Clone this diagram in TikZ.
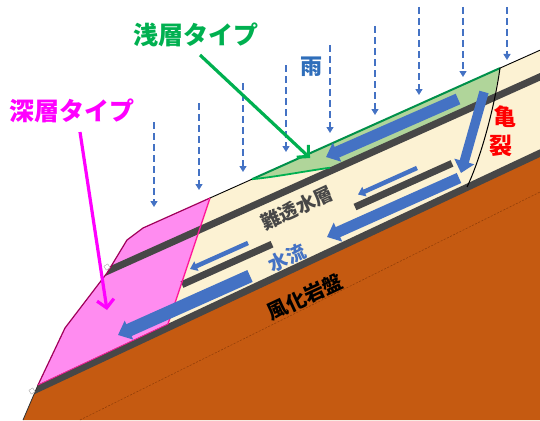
\documentclass[tikz,border=0pt]{standalone}
\usepackage{fontspec}
\newfontfamily\jp{Noto Sans CJK JP}
\usetikzlibrary{arrows.meta}
\definecolor{cream}{HTML}{FCF2D3}
\definecolor{rock}{HTML}{C55A11}
\definecolor{rockline}{HTML}{8E3C08}
\definecolor{band}{HTML}{474747}
\definecolor{flow}{HTML}{4472C4}
\definecolor{shallowfill}{HTML}{B0D59A}
\definecolor{shallowline}{HTML}{00904A}
\definecolor{deepfill}{HTML}{FF8CF0}
\definecolor{deepedge}{HTML}{FF1A9A}
\definecolor{deepoutline}{HTML}{A0005A}
\definecolor{labelgreen}{HTML}{00B050}
\definecolor{labelpink}{HTML}{FF00FF}
\definecolor{rainlabel}{HTML}{2F6EBA}
\definecolor{cracklabel}{HTML}{FF0000}
\tikzset{
  bandline/.style={draw=band, line width=7pt},
  bigflow/.style={draw=flow, line width=#1, -{Triangle[width=20pt,length=12pt]}},
  thinflow/.style={draw=flow, line width=4.5pt, -{Triangle[width=10pt,length=7pt]}},
  rain/.style={draw=flow, line width=1.4pt, dash pattern=on 7pt off 4pt,
    -{Triangle[width=7pt,length=6pt]}},
  callout/.style={line width=3.2pt, -{Straight Barb[length=8pt,width=17pt]}},
  typelabel/.style={font=\jp\bfseries\fontsize{25}{25}\selectfont, inner sep=0pt},
  layerlabel/.style={font=\jp\bfseries\fontsize{19}{19}\selectfont, inner sep=0pt, rotate=25},
  handle/.style={draw=gray!70, fill=white, line width=0.4pt, minimum size=4.5pt,
    inner sep=0pt, rotate=30}
}
\begin{document}
\begin{tikzpicture}[x=1pt,y=-1pt]
\useasboundingbox (0,0) rectangle (540,420);

% ground outline
\coordinate (g1) at (540,50.2);
\coordinate (g2) at (143,228);
\coordinate (g3) at (127,240);
\coordinate (g4) at (107,273);
\coordinate (g5) at (65,328);
\coordinate (g6) at (38,385);
\coordinate (g7) at (23,420);
\coordinate (pinktop) at (210,198);
\coordinate (pinkfoot) at (168,324);
\coordinate (apex) at (500,68.1);
\coordinate (greentip) at (252,179.2);
\coordinate (crackfoot) at (467,187);

% weathered bedrock
\fill[rock] (g6) -- (g7) -- (540,420) -- (540,153.2) -- cycle;
\draw[rockline, line width=0.5pt, dash pattern=on 2pt off 1.5pt] (80,420) -- (540,192);

% soil layer
\fill[cream] (g1) -- (g2) -- (g3) -- (g4) -- (g5) -- (g6) -- (540,153.2) -- cycle;

% deep-seated slide mass
\fill[deepfill] (pinktop) -- (g2) -- (g3) -- (g4) -- (g5) -- (g6) -- (pinkfoot) -- cycle;

% shallow slide mass
\fill[shallowfill] (greentip) -- (apex) -- (494,97) -- (330,167.7)
  .. controls (300,172) and (275,177) .. (greentip) -- cycle;

% low-permeability bands
\begin{scope}
  \clip (g1) -- (g2) -- (g3) -- (g4) -- (g5) -- (g6) -- (g7) -- (540,420) -- cycle;
  \draw[bandline] (100,274.5) -- (545,74.6);
  \draw[bandline] (182,284.6) -- (272,244.2);
  \draw[bandline] (355,207) -- (452,163.4);
  \draw[bandline] (25,394.7) -- (545,150.8);
\end{scope}

% outlines
\draw[deepoutline, line width=1.2pt, line join=round] (pinktop) -- (g2) -- (g3) -- (g4) -- (g5) -- (g6);
\draw[black!80, line width=0.8pt] (g6) -- (g7);
\draw[deepedge, line width=1.4pt] (pinktop) -- (pinkfoot);
\draw[deepedge, line width=0.8pt] (g6) -- (pinkfoot);
\draw[black, line width=0.9pt] (pinktop) -- (greentip);
\draw[black, line width=0.9pt] (apex) -- (g1);
\draw[shallowline, line width=2pt] (greentip) -- (apex);
\draw[labelgreen, line width=1.8pt] (330,167.7) .. controls (300,172) and (275,177) .. (greentip);
\draw[black, line width=1pt] (apex) .. controls (494,110) and (480,160) .. (crackfoot);

\node[handle] (h1) at (107,267) {};
\node[handle] (h2) at (32,391) {};

% groundwater flow
\coordinate (f1a) at (458,99);   \coordinate (f1b) at (326,157);
\coordinate (f2a) at (484,92);   \coordinate (f2b) at (461,173);
\coordinate (f3a) at (417,168);  \coordinate (f3b) at (358,194.5);
\coordinate (f4a) at (248,243);  \coordinate (f4b) at (190,269);
\coordinate (f5a) at (459,178);  \coordinate (f5b) at (327,237);
\coordinate (f6a) at (250,276);  \coordinate (f6b) at (118,335);
\draw[bigflow=11.5pt] (f1a) -- (f1b);
\draw[bigflow=9.5pt] (f2a) -- (f2b);
\draw[thinflow] (f3a) -- (f3b);
\draw[thinflow] (f4a) -- (f4b);
\draw[bigflow=11pt] (f5a) -- (f5b);
\draw[bigflow=13pt] (f6a) -- (f6b);

% rainfall
\foreach \i/\x/\ya/\yb in {1/154/122/207, 2/199/103/190, 3/243/83/172,
    4/286/65/152, 5/330/45/133, 6/375/26/115, 7/419/7/95, 8/463/7/77, 9/507/7/60}{
  \coordinate (r\i a) at (\x,\ya);
  \coordinate (r\i b) at (\x,\yb);
  \draw[rain] (r\i a) -- (r\i b);
}

% labels
\node[typelabel, text=labelgreen] (shallow) at (196,35) {浅層タイプ};
\node[typelabel, text=labelpink] (deep) at (72,111) {深層タイプ};
\node[font=\jp\bfseries\fontsize{22}{22}\selectfont, text=rainlabel, inner sep=0pt] (rainlbl) at (311,67) {雨};
\node[font=\jp\bfseries\fontsize{23}{23}\selectfont, text=cracklabel, inner sep=0pt] (crack1) at (505,117) {亀};
\node[font=\jp\bfseries\fontsize{23}{23}\selectfont, text=cracklabel, inner sep=0pt] (crack2) at (501,146) {裂};
\node[layerlabel, text=band] (aquitard) at (297,208) {難透水層};
\node[layerlabel, text=flow] (water) at (287,258) {水流};
\node[layerlabel, font=\jp\bfseries\fontsize{20}{20}\selectfont, text=black] (rocklbl) at (305,297) {風化岩盤};

% callouts
\coordinate (cs) at (200,55);  \coordinate (ce) at (310,158);
\coordinate (ds) at (80,132);  \coordinate (de) at (107,310);
\draw[callout, labelgreen] (cs) -- (ce);
\draw[callout, labelpink] (ds) -- (de);
\end{tikzpicture}
\end{document}
